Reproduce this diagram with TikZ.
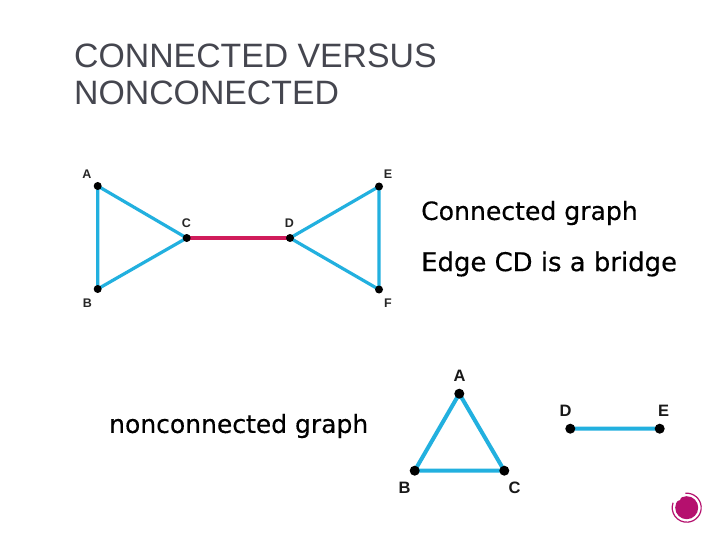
\documentclass[tikz,border=0pt]{standalone}
\usepackage{fontspec}
\setmainfont{Liberation Sans}
\newfontfamily\bodyfont[FakeBold=0.35]{DejaVu Sans}
\definecolor{edgeblue}{HTML}{22B0DF}
\definecolor{bridgered}{HTML}{D01C5B}
\definecolor{logomag}{HTML}{B5106E}
\definecolor{titlegrey}{HTML}{45464F}
\tikzset{
  x=1pt,y=-1pt,
  vtx/.style={circle,fill=black,inner sep=0pt,minimum size=8pt},
  vtxb/.style={circle,fill=black,inner sep=0pt,minimum size=10pt},
  edgeline/.style={draw=edgeblue,line width=3.2pt},
  edgeb/.style={draw=edgeblue,line width=4pt},
  bridge/.style={draw=bridgered,line width=3.2pt},
  vlabel/.style={font=\fontsize{12.5}{14}\selectfont\bfseries,text=black!85,inner sep=0pt},
  vlabelb/.style={font=\fontsize{16.5}{18}\selectfont\bfseries,text=black!90,inner sep=0pt},
  titletext/.style={font=\fontsize{33.8}{38}\selectfont,text=titlegrey,anchor=west,inner sep=0pt},
  bodytext/.style={text=black,anchor=west,inner sep=0pt},
}
\begin{document}
\begin{tikzpicture}
\useasboundingbox (0,0) rectangle (720,540);
\fill[white] (0,0) rectangle (720,540);
\node[titletext] (t1) at (74,56) {CONNECTED VERSUS};
\node[titletext] (t2) at (74,93) {NONCONECTED};
% first graph: edges first, so the dots lie on top
\coordinate (A) at (97.7,186);
\coordinate (B) at (97.7,289);
\coordinate (C) at (186.7,238);
\coordinate (D) at (290,238);
\coordinate (E) at (379,186.5);
\coordinate (F) at (379,289.5);
\draw[edgeline] (A)--(B) (A)--(C) (B)--(C) (D)--(E) (D)--(F) (E)--(F);
\draw[bridge] (C)--(D);
\node[vtx] (nA) at (A) {};
\node[vtx] (nB) at (B) {};
\node[vtx] (nC) at (C) {};
\node[vtx] (nD) at (D) {};
\node[vtx] (nE) at (E) {};
\node[vtx] (nF) at (F) {};
\node[vlabel] (lA) at (87,174) {A};
\node[vlabel] (lB) at (87.5,303) {B};
\node[vlabel] (lC) at (186.5,223.5) {C};
\node[vlabel] (lD) at (289.5,223.5) {D};
\node[vlabel] (lE) at (388,174) {E};
\node[vlabel] (lF) at (388,303) {F};
\node[bodytext,font=\bodyfont\fontsize{25.1}{30}\selectfont] (b1) at (421,213) {Connected graph};
\node[bodytext,font=\bodyfont\fontsize{25.9}{30}\selectfont] (b2) at (421,264) {Edge CD is a bridge};
\node[bodytext,font=\bodyfont\fontsize{25}{30}\selectfont] (b3) at (109,426) {nonconnected graph};
% second graph
\coordinate (A2) at (459.3,393.7);
\coordinate (B2) at (414.7,470.7);
\coordinate (C2) at (504.3,470.7);
\coordinate (D2) at (570.3,428.7);
\coordinate (E2) at (659.7,428.7);
\draw[edgeb] (A2)--(B2) (A2)--(C2) (B2)--(C2) (D2)--(E2);
\node[vtxb] (nA2) at (A2) {};
\node[vtxb] (nB2) at (B2) {};
\node[vtxb] (nC2) at (C2) {};
\node[vtxb] (nD2) at (D2) {};
\node[vtxb] (nE2) at (E2) {};
\node[vlabelb] (lA2) at (459.5,376) {A};
\node[vlabelb] (lB2) at (404.5,488) {B};
\node[vlabelb] (lC2) at (514.5,488) {C};
\node[vlabelb] (lD2) at (565.5,411) {D};
\node[vlabelb] (lE2) at (663.5,411) {E};
% logo
\coordinate (logo) at (686.7,507.7);
\fill[logomag] (logo) circle (11.5);
\fill[white] (677.5,497.5) circle (3.5);
\draw[logomag,line width=1.2pt] (logo) ++(-95:14.5) arc (-95:200:14.5);
\end{tikzpicture}
\end{document}
